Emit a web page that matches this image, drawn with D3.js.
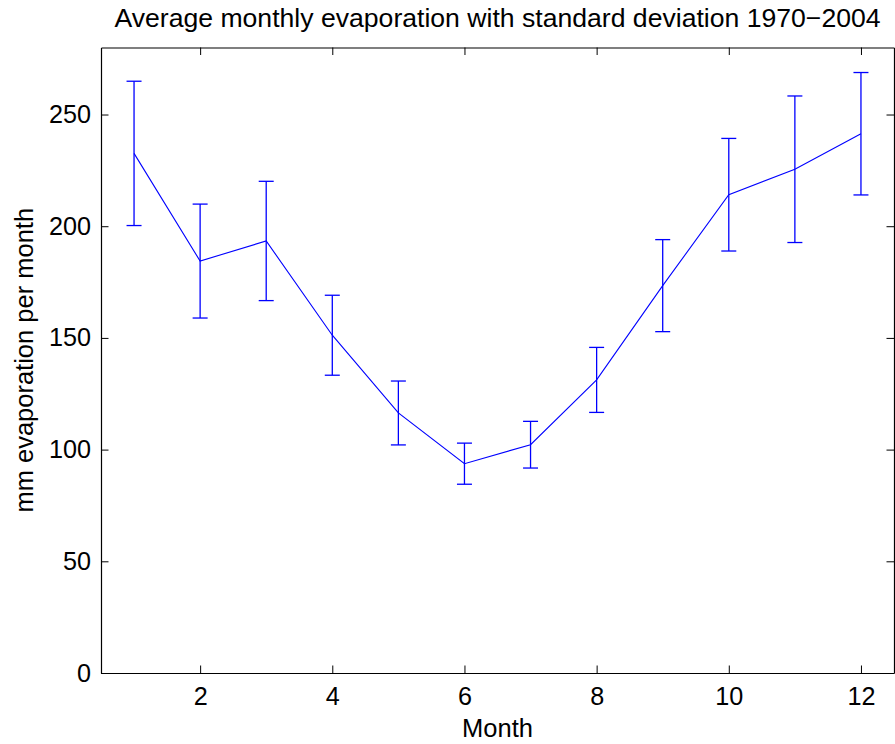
<!DOCTYPE html>
<html>
<head>
<meta charset="utf-8">
<script src="https://cdn.jsdelivr.net/npm/d3@7"></script>
<style>
  html, body { margin: 0; padding: 0; background: #fff; }
  svg { display: block; }
  text { font-family: "Liberation Sans", Arial, Helvetica, sans-serif; fill: #000; }
</style>
</head>
<body>
<svg id="chart" width="895" height="744"></svg>
<script>
// ---- data ----
const months = [1, 2, 3, 4, 5, 6, 7, 8, 9, 10, 11, 12];
const meanEvap = [232.6, 184.4, 193.4, 151.2, 116.4, 93.7, 102.2, 131.2, 173.4, 214.1, 225.5, 241.4];
const stdEvap  = [32.3, 25.5, 26.7, 17.9, 14.3, 9.2, 10.45, 14.55, 20.6, 25.2, 32.8, 27.4];
const xTicks = [2, 4, 6, 8, 10, 12];
const yTicks = [0, 50, 100, 150, 200, 250];
const titleText = "Average monthly evaporation with standard deviation 1970\u22122004";
const xLabel = "Month";
const yLabel = "mm evaporation per month";

// ---- layout ----
const plotL = 101, plotR = 894, plotT = 47.5, plotB = 673;
const tickLen = 7.5;
const capHalf = 7.5;
const tickFont = 25.2;
const labelFont = 25.5;
const titleFont = 26.6;
const color = "#0000ff";

const svg = d3.select("#chart");
const x = d3.scaleLinear().domain([0.5, 12.5]).range([plotL, plotR]);
const y = d3.scaleLinear().domain([0, 280]).range([plotB, plotT]);

// axes (ticks inward on all four sides)
const axB = d3.axisBottom(x).tickValues(xTicks).tickSizeInner(-tickLen).tickSizeOuter(0).tickPadding(14);
const axT = d3.axisTop(x).tickValues(xTicks).tickSizeInner(-tickLen).tickSizeOuter(0).tickFormat("");
const axL = d3.axisLeft(y).tickValues(yTicks).tickSizeInner(-tickLen).tickSizeOuter(0).tickPadding(10);
const axR = d3.axisRight(y).tickValues(yTicks).tickSizeInner(-tickLen).tickSizeOuter(0).tickFormat("");

function style(g) {
  g.selectAll("path.domain").attr("stroke", "#000").attr("stroke-width", 1.2);
  g.selectAll(".tick line").attr("stroke", "#000").attr("stroke-width", 1);
  g.selectAll(".tick text").attr("font-size", tickFont).attr("fill", "#000")
    .style("font-family", '"Liberation Sans", Arial, Helvetica, sans-serif');
}
svg.append("g").attr("transform", `translate(0,${plotB})`).call(axB).call(style);
svg.append("g").attr("transform", `translate(0,${plotT})`).call(axT).call(style);
svg.append("g").attr("transform", `translate(${plotL},0)`).call(axL).call(style);
svg.append("g").attr("transform", `translate(${plotR},0)`).call(axR).call(style);

const data = months.map((m, i) => ({ m, v: meanEvap[i], s: stdEvap[i] }));

// line
const line = d3.line().x(d => x(d.m)).y(d => y(d.v));
svg.append("path").datum(data)
  .attr("d", line).attr("fill", "none").attr("stroke", color).attr("stroke-width", 1.1);

// error bars
const eb = svg.append("g").attr("stroke", color).attr("stroke-width", 1.3).attr("fill", "none");
eb.selectAll("line.v").data(data).join("line").attr("class", "v")
  .attr("x1", d => x(d.m)).attr("x2", d => x(d.m))
  .attr("y1", d => y(d.v - d.s)).attr("y2", d => y(d.v + d.s));
eb.selectAll("line.u").data(data).join("line").attr("class", "u")
  .attr("x1", d => x(d.m) - capHalf).attr("x2", d => x(d.m) + capHalf)
  .attr("y1", d => y(d.v + d.s)).attr("y2", d => y(d.v + d.s));
eb.selectAll("line.l").data(data).join("line").attr("class", "l")
  .attr("x1", d => x(d.m) - capHalf).attr("x2", d => x(d.m) + capHalf)
  .attr("y1", d => y(d.v - d.s)).attr("y2", d => y(d.v - d.s));

// title and labels
svg.append("text").attr("x", (plotL + plotR) / 2).attr("y", 27)
  .attr("text-anchor", "middle").attr("font-size", titleFont).text(titleText);
svg.append("text").attr("x", (plotL + plotR) / 2).attr("y", 737)
  .attr("text-anchor", "middle").attr("font-size", labelFont).text(xLabel);
svg.append("text").attr("transform", `translate(33,${(plotT + plotB) / 2}) rotate(-90)`)
  .attr("text-anchor", "middle").attr("font-size", labelFont).text(yLabel);
</script>
</body>
</html>
